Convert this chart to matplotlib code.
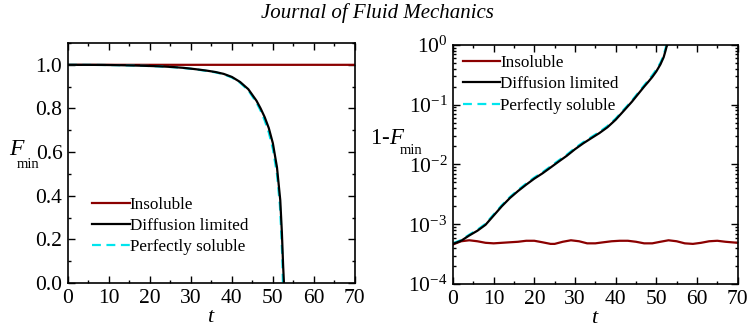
import numpy as np
import matplotlib
matplotlib.use("Agg")
import matplotlib.pyplot as plt
from matplotlib.ticker import MultipleLocator, LogLocator, NullFormatter

plt.rcParams['font.family'] = ['Liberation Serif', 'DejaVu Serif']
plt.rcParams['mathtext.fontset'] = 'custom'
plt.rcParams['mathtext.rm'] = 'Liberation Serif'
plt.rcParams['mathtext.it'] = 'Liberation Serif:italic'
plt.rcParams['mathtext.bf'] = 'Liberation Serif:bold'

# --- data (1 - F_min) ---
t_ins = [0, 2, 4, 6, 8, 10, 12, 14, 16, 18, 20, 22, 24, 25, 27, 29, 31, 33, 35,
         37, 39, 41, 43, 45, 47, 49, 51, 53, 55, 57, 59, 61, 63, 65, 67, 70]
g_ins = [4.6e-4, 5.2e-4, 5.4e-4, 5.2e-4, 4.9e-4, 4.8e-4, 4.9e-4, 5.0e-4, 5.1e-4,
         5.3e-4, 5.3e-4, 5.0e-4, 4.7e-4, 4.7e-4, 5.1e-4, 5.4e-4, 5.2e-4, 4.8e-4,
         4.8e-4, 5.0e-4, 5.2e-4, 5.3e-4, 5.3e-4, 5.1e-4, 4.8e-4, 4.8e-4, 5.1e-4,
         5.4e-4, 5.2e-4, 4.8e-4, 4.7e-4, 4.9e-4, 5.2e-4, 5.3e-4, 5.1e-4, 4.9e-4]

t_dif = [0, 2, 4, 6, 8, 10, 12, 14, 16, 18, 20, 22, 24, 26, 28, 30, 32, 34, 36,
         38, 40, 42, 44, 46, 47, 48, 49, 50, 51, 51.8, 52.2, 52.5, 52.7]
g_dif = [4.7e-4, 5.3e-4, 6.5e-4, 7.8e-4, 9.8e-4, 1.4e-3, 2.0e-3, 2.75e-3, 3.6e-3,
         4.6e-3, 5.8e-3, 7.1e-3, 8.9e-3, 1.12e-2, 1.4e-2, 1.8e-2, 2.25e-2, 2.75e-2,
         3.35e-2, 4.2e-2, 5.6e-2, 7.9e-2, 0.112, 0.165, 0.20, 0.24, 0.29, 0.36,
         0.47, 0.62, 0.77, 0.92, 1.0]

t_sol = [0, 2, 4, 6, 8, 10, 12, 14, 16, 18, 20, 22, 24, 26, 28, 30, 32, 34, 36,
         38, 40, 42, 44, 46, 47, 48, 49, 50, 51, 51.7, 52.0, 52.3, 52.45]
g_sol = [4.8e-4, 5.45e-4, 6.7e-4, 8.1e-4, 1.02e-3, 1.46e-3, 2.08e-3, 2.86e-3, 3.75e-3,
         4.8e-3, 6.05e-3, 7.4e-3, 9.3e-3, 1.17e-2, 1.46e-2, 1.88e-2, 2.35e-2, 2.87e-2,
         3.5e-2, 4.4e-2, 5.85e-2, 8.25e-2, 0.117, 0.173, 0.21, 0.255, 0.31, 0.385,
         0.50, 0.64, 0.75, 0.88, 1.0]

labels = ['Insoluble', 'Diffusion limited', 'Perfectly soluble']
col_ins = '#8b0000'
col_dif = 'black'
col_sol = '#00e5ee'

fig = plt.figure(figsize=(7.55, 3.35), dpi=100)
ax1 = fig.add_axes([0.090, 0.155, 0.380, 0.717])
ax2 = fig.add_axes([0.600, 0.152, 0.377, 0.714])

fig.text(0.5, 0.962, 'Journal of Fluid Mechanics', ha='center', va='center',
         fontsize=15, style='italic')

leg_kw = dict(frameon=False, fontsize=12.3, handlelength=2.2, handletextpad=0.0,
              labelspacing=0.3, borderaxespad=0)

# left panel: F_min
ax1.plot(t_ins, 1 - np.array(g_ins), color=col_ins, lw=1.6, label=labels[0])
ax1.plot(t_dif, 1 - np.array(g_dif), color=col_dif, lw=1.6, label=labels[1], zorder=3)
ax1.plot(t_sol, 1 - np.array(g_sol), color=col_sol, lw=1.6, ls=(0, (4, 2.5)),
         label=labels[2], zorder=2)
ax1.set_xlim(0, 70)
ax1.set_ylim(0, 1.1)
ax1.xaxis.set_major_locator(MultipleLocator(10))
ax1.xaxis.set_minor_locator(MultipleLocator(5))
ax1.yaxis.set_major_locator(MultipleLocator(0.2))
ax1.yaxis.set_minor_locator(MultipleLocator(0.1))
ax1.yaxis.set_major_formatter(plt.FormatStrFormatter('%.1f'))
ax1.set_xlabel('$t$', fontsize=16, labelpad=0)
ax1.text(-0.178, 0.556, '$F$', transform=ax1.transAxes, fontsize=17,
         ha='center', va='center')
ax1.text(-0.138, 0.494, 'min', transform=ax1.transAxes, fontsize=10.5,
         ha='center', va='center')
ax1.legend(loc='lower left', bbox_to_anchor=(0.061, 0.088), **leg_kw)

# right panel: 1 - F_min
ax2.semilogy(t_ins, g_ins, color=col_ins, lw=1.6, label=labels[0])
ax2.semilogy(t_dif, g_dif, color=col_dif, lw=1.6, label=labels[1], zorder=3)
ax2.semilogy(t_sol, g_sol, color=col_sol, lw=1.6, ls=(0, (4, 2.5)),
             label=labels[2], zorder=2)
ax2.set_xlim(0, 70)
ax2.set_ylim(1e-4, 1)
ax2.xaxis.set_major_locator(MultipleLocator(10))
ax2.xaxis.set_minor_locator(MultipleLocator(5))
ax2.yaxis.set_major_locator(LogLocator(base=10, numticks=10))
ax2.yaxis.set_minor_locator(LogLocator(base=10, subs=np.arange(2, 10), numticks=20))
ax2.yaxis.set_minor_formatter(NullFormatter())
ax2.set_xlabel('$t$', fontsize=16, labelpad=0)
ax2.text(-0.228, 0.608, '1-$F$', transform=ax2.transAxes, fontsize=16.5,
         ha='center', va='center')
ax2.text(-0.149, 0.558, 'min', transform=ax2.transAxes, fontsize=10.5,
         ha='center', va='center')
ax2.legend(loc='upper left', bbox_to_anchor=(0.010, 0.985), **leg_kw)

for ax in (ax1, ax2):
    ax.tick_params(which='both', direction='in', top=True, right=True,
                   labelsize=15.5, width=1.0)
    ax.tick_params(which='major', length=5, pad=4)
    ax.tick_params(which='minor', length=2.5)
    for s in ax.spines.values():
        s.set_linewidth(1.2)

fig.savefig('out.png', dpi=100)
